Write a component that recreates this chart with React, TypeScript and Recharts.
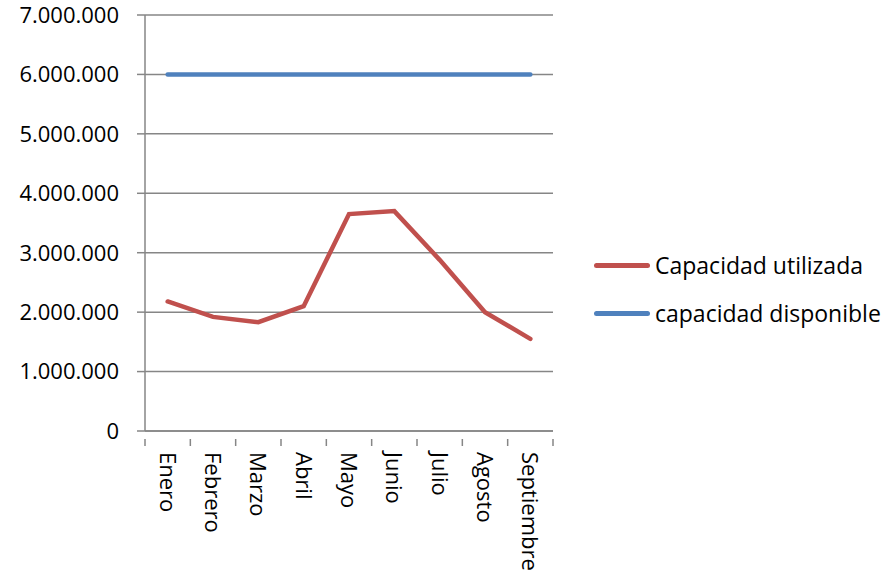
import { LineChart, Line, XAxis, YAxis, CartesianGrid, Legend } from 'recharts';

// monthly values
const months = ['Enero', 'Febrero', 'Marzo', 'Abril', 'Mayo', 'Junio', 'Julio', 'Agosto', 'Septiembre'];
const utilizada = [2180000, 1920000, 1830000, 2100000, 3650000, 3700000, 2880000, 2000000, 1550000];
const disponible = [6000000, 6000000, 6000000, 6000000, 6000000, 6000000, 6000000, 6000000, 6000000];
const yTicks = [0, 1000000, 2000000, 3000000, 4000000, 5000000, 6000000, 7000000];

const data = months.map((m, i) => ({ month: m, utilizada: utilizada[i], disponible: disponible[i] }));

const FONT = '"Open Sans", sans-serif';
const AXIS = '#868686';
const RED = '#C0504D';
const BLUE = '#4F81BD';

const PLOT_LEFT = 145;
const PLOT_RIGHT = 553;
const BAND = (PLOT_RIGHT - PLOT_LEFT) / months.length;

const fmt = (v: number) => (v === 0 ? '0' : v.toLocaleString('de-DE'));

function MonthTick(props: any) {
  const { x, y, payload, index } = props;
  return (
    <g>
      <line x1={x - BAND / 2} x2={x - BAND / 2} y1={y} y2={y + 7} stroke={AXIS} strokeWidth={1.5} />
      {index === months.length - 1 && (
        <line x1={x + BAND / 2} x2={x + BAND / 2} y1={y} y2={y + 7} stroke={AXIS} strokeWidth={1.5} />
      )}
      <text
        x={0}
        y={0}
        transform={`translate(${x + 1},${y + 13}) rotate(90)`}
        textAnchor="start"
        dominantBaseline="central"
        fontFamily={FONT}
        fontSize={22}
        fill="#000"
      >
        {payload.value}
      </text>
    </g>
  );
}

function LegendBox() {
  const items = [
    { label: 'Capacidad utilizada', color: RED },
    { label: 'capacidad disponible', color: BLUE },
  ];
  return (
    <div style={{ fontFamily: FONT, fontSize: 23, color: '#000' }}>
      {items.map((it) => (
        <div key={it.label} style={{ display: 'flex', alignItems: 'center', height: 48 }}>
          <span style={{ display: 'inline-block', width: 56, height: 5, borderRadius: 3, background: it.color, marginRight: 5 }} />
          <span style={{ whiteSpace: 'nowrap' }}>{it.label}</span>
        </div>
      ))}
    </div>
  );
}

export default function App() {
  return (
    <div style={{ position: 'absolute', left: 0, top: 0, width: 881, height: 574, background: '#fff' }}>
      <LineChart width={881} height={574} data={data} margin={{ top: 15, right: 881 - PLOT_RIGHT, bottom: 0, left: 0 }}>
        <CartesianGrid vertical={false} stroke={AXIS} strokeWidth={1.5} />
        <XAxis
          dataKey="month"
          height={143}
          stroke={AXIS}
          strokeWidth={1.5}
          tickLine={false}
          interval={0}
          padding={{ left: BAND / 2, right: BAND / 2 }}
          tick={<MonthTick />}
        />
        <YAxis
          width={PLOT_LEFT}
          domain={[0, 7000000]}
          ticks={yTicks}
          interval={0}
          stroke={AXIS}
          strokeWidth={1.5}
          tickSize={8}
          tickMargin={18}
          tickFormatter={fmt}
          tick={{ fill: '#000', fontFamily: FONT, fontSize: 22 }}
        />
        <Legend
          layout="horizontal"
          verticalAlign="middle"
          content={<LegendBox />}
          wrapperStyle={{ left: 594, top: 241, width: 287 }}
        />
        <Line
          type="linear"
          dataKey="disponible"
          stroke={BLUE}
          strokeWidth={4.5}
          dot={false}
          strokeLinecap="round"
          isAnimationActive={false}
        />
        <Line
          type="linear"
          dataKey="utilizada"
          stroke={RED}
          strokeWidth={4.5}
          dot={false}
          strokeLinecap="round"
          isAnimationActive={false}
        />
      </LineChart>
    </div>
  );
}
